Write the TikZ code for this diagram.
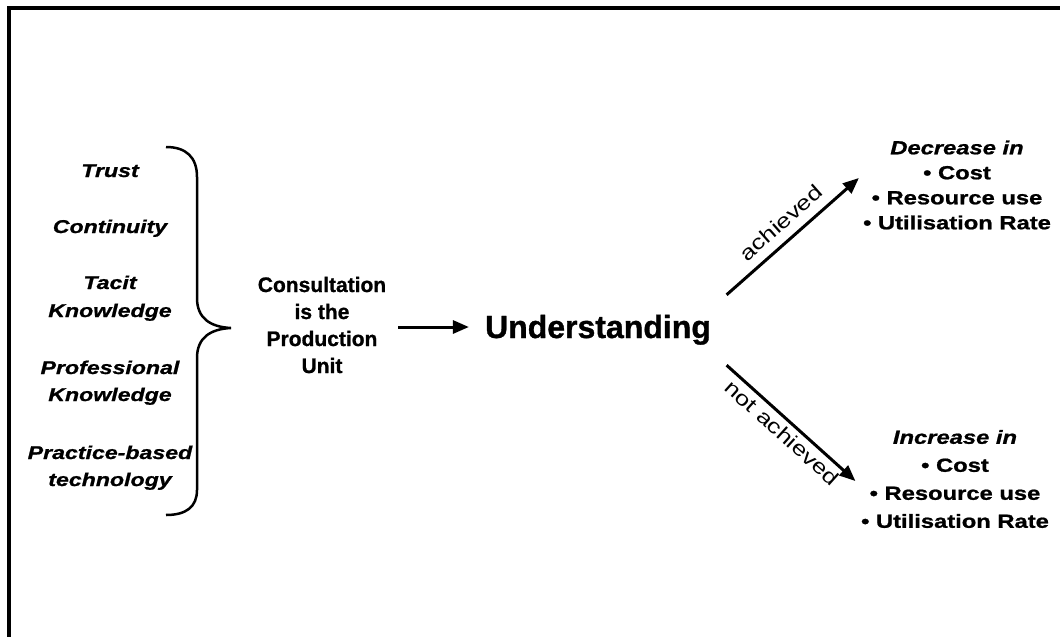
\documentclass[tikz,border=0pt]{standalone}
\usepackage{fontspec}
\setmainfont{Liberation Sans}[BoldFeatures={FakeBold=1},BoldItalicFeatures={FakeBold=1}]
\newfontfamily\widefont{Liberation Sans}[FakeStretch=1.25,BoldFeatures={FakeBold=1},BoldItalicFeatures={FakeBold=1}]
\usetikzlibrary{arrows.meta}
\begin{document}
\begin{tikzpicture}[x=1pt,y=-1pt,
  lt/.style={font=\widefont\fontsize{18.5}{22}\selectfont\bfseries\itshape, inner sep=0pt, anchor=base},
  rt/.style={font=\widefont\fontsize{19}{25}\selectfont\bfseries, align=center, inner sep=0pt},
  rtl/.style={rt, font=\widefont\fontsize{19}{28}\selectfont\bfseries},
  lab/.style={font=\widefont\fontsize{20.5}{24}\selectfont, inner sep=0pt},
  arr/.style={line width=3pt, -{Triangle[length=16pt,width=13pt]}},
  frame/.style={line width=4.5pt},
  bracestyle/.style={line width=2.5pt}
]
\useasboundingbox (0,0) rectangle (1060,637);
% frame
\draw[frame] (9,650) -- (9,8) -- (1075,8);
% left items
\node[lt] (trust) at (110,177) {Trust};
\node[lt] (cont) at (110,233) {Continuity};
\node[lt] (tac1) at (110,289) {Tacit};
\node[lt] (tac2) at (110,317) {Knowledge};
\node[lt] (pro1) at (110,374) {Professional};
\node[lt] (pro2) at (110,401) {Knowledge};
\node[lt] (pra1) at (110,459) {Practice-based};
\node[lt] (pra2) at (110,486) {technology};
% brace
\draw[bracestyle] (166,147) .. controls (186,147) and (197,157) .. (197,177) -- (197,298)
  .. controls (197,318) and (210,327) .. (231,328)
  .. controls (210,329) and (197,338) .. (197,358) -- (197,490)
  .. controls (197,507) and (186,515) .. (166,515);
% centre
\node[font=\fontsize{21}{27}\selectfont\bfseries, align=center, inner sep=0pt] (cons) at (322,325)
  {Consultation\\is the\\Production\\Unit};
\node[font=\fontsize{32}{38}\selectfont\bfseries, text height=22pt, text depth=0pt, inner sep=0pt] (und) at (598,327) {Understanding};
\draw[arr, shorten <=12pt, shorten >=16pt] (cons.east |- und.west) -- (und.west);
% right blocks
\node[rt] (up) at (957,185) {{\itshape Decrease in}\\• Cost\\• Resource use\\• Utilisation Rate};
\node[rtl] (low) at (955,479) {{\itshape Increase in}\\• Cost\\• Resource use\\• Utilisation Rate};
\draw[arr] ([shift={(15.5,-21)}]und.north east) -- ([shift={(-4,-7)}]up.west)
  node[lab, midway, sloped, above=9pt] {achieved};
\draw[arr] ([shift={(15.5,27)}]und.south east) -- ([shift={(-5.5,2)}]low.west)
  node[lab, midway, sloped, below=4pt] {not achieved};
\end{tikzpicture}
\end{document}
